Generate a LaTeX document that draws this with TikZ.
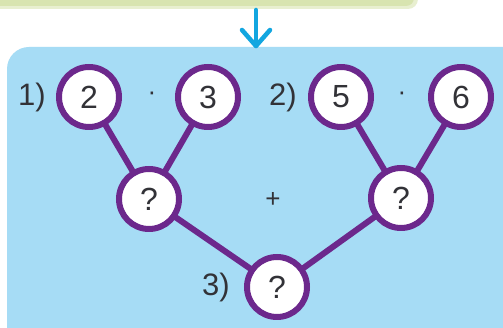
\documentclass[tikz,border=0pt]{standalone}
\usepackage{fontspec}
\setmainfont{Liberation Sans}
\definecolor{bgblue}{RGB}{166,220,245}
\definecolor{arrowblue}{RGB}{18,166,224}
\definecolor{ring}{RGB}{108,40,140}
\definecolor{topgreen}{RGB}{216,228,176}
\definecolor{txt}{RGB}{50,50,55}
\begin{document}
\begin{tikzpicture}[x=1pt,y=1pt,
  numcirc/.style={circle,draw=ring,line width=6pt,fill=white,minimum size=60pt,inner sep=0pt,font=\fontsize{32}{32}\selectfont,text=txt},
  lbl/.style={font=\fontsize{31}{31}\selectfont,text=txt,inner sep=0pt},
  op/.style={font=\fontsize{26}{26}\selectfont,text=txt,inner sep=0pt},
  link/.style={draw=ring,line width=6pt}]
\useasboundingbox (0,0) rectangle (503,328);
\fill[white] (0,0) rectangle (503,328);
% top green strip
\fill[topgreen!60,rounded corners=10pt] (-20,319) rectangle (418,345);
\fill[topgreen,rounded corners=8pt] (-20,322) rectangle (414,345);
% blue panel
\fill[bgblue,rounded corners=22pt] (7,-30) rectangle (530,281);
% arrow
\coordinate (atop) at (256,318);
\coordinate (abot) at (256,282);
\coordinate (aleft) at (242,298);
\coordinate (aright) at (270,298);
\draw[arrowblue,line width=4.5pt,line cap=round,line join=round] (atop) -- (abot);
\draw[arrowblue,line width=4.5pt,line cap=round,line join=round] (aleft) -- (abot) -- (aright);
% circle positions
\coordinate (c2) at (89,231);
\coordinate (c3) at (208,231);
\coordinate (c5) at (341,231);
\coordinate (c6) at (461,231);
\coordinate (cq1) at (149,129);
\coordinate (cq2) at (401,130);
\coordinate (cq3) at (277,41);
% connectors
\path[link] (c2) -- (cq1);
\path[link] (c3) -- (cq1);
\path[link] (c5) -- (cq2);
\path[link] (c6) -- (cq2);
\path[link] (cq1) -- (cq3);
\path[link] (cq2) -- (cq3);
% circles over connectors
\node[numcirc] (n2) at (c2) {2};
\node[numcirc] (n3) at (c3) {3};
\node[numcirc] (n5) at (c5) {5};
\node[numcirc] (n6) at (c6) {6};
\node[numcirc] (q1) at (cq1) {?};
\node[numcirc] (q2) at (cq2) {?};
\node[numcirc] (q3) at (cq3) {?};
% labels
\node[lbl] (l1) at (32,231) {1)};
\node[lbl] (l2) at (283,231) {2)};
\node[lbl] (l3) at (216,41) {3)};
\node[op] (d1) at (152,232) {·};
\node[op] (d2) at (402,232) {·};
\node[op] (plus) at (273,128) {+};
\end{tikzpicture}
\end{document}
